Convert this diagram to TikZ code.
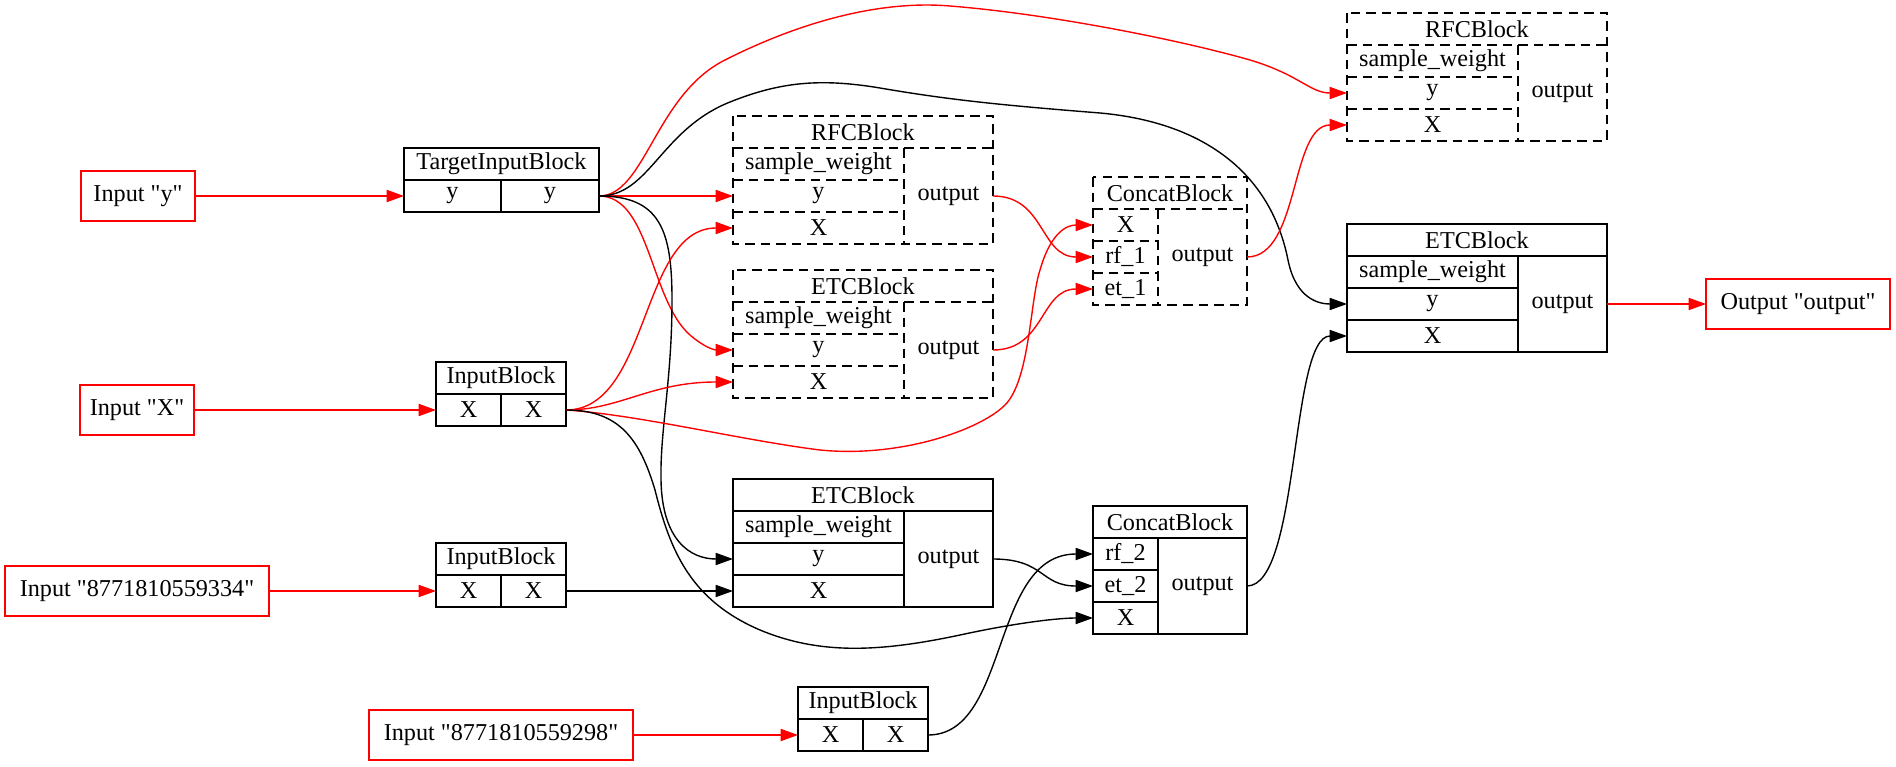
\documentclass[tikz,border=0pt]{standalone}
\usepackage{fontspec}
\setmainfont{Liberation Serif}
\usetikzlibrary{arrows.meta}

\newcommand{\px}{0.578pt}
\newcommand{\dq}{\XeTeXglyph\XeTeXcharglyph"22\relax}

\tikzset{
  cell/.style args={#1/#2}{draw, line width=0.8pt, inner sep=0pt, outer sep=0pt,
    anchor=north west, minimum width=#1*\px, minimum height=#2*\px},
  dashcell/.style={draw=none},
  dashline/.style={line width=0.8pt, dash pattern=on 5.5pt off 3.5pt},
  iobox/.style={draw=red},
  link/.style={line width=0.8pt, -{Triangle[length=10pt,width=7pt]}},
  redlink/.style={link, red},
}

\begin{document}
\begin{tikzpicture}[x=\px, y=-\px, font=\fontsize{14}{17}\selectfont]
\useasboundingbox (0,0) rectangle (1896,767);

% inputs and output
\node[cell=114/50, iobox] (in_y) at (81,171) {Input \dq y\dq};
\node[cell=114/50, iobox] (in_X) at (80,385) {Input \dq X\dq};
\node[cell=264/50, iobox] (in_334) at (5,566) {Input \dq 8771810559334\dq};
\node[cell=264/50, iobox] (in_298) at (369,710) {Input \dq 8771810559298\dq};
\node[cell=184/50, iobox] (out_output) at (1706,279) {Output \dq output\dq};

% input blocks
\node[cell=195/32] (tib) at (404,148) {TargetInputBlock};
\node[cell=97/32] (tib_in) at (404,180) {y};
\node[cell=98/32] (tib_out) at (501,180) {y};

\node[cell=130/32] (ib1) at (436,362) {InputBlock};
\node[cell=65/32] (ib1_in) at (436,394) {X};
\node[cell=65/32] (ib1_out) at (501,394) {X};

\node[cell=130/32] (ib2) at (436,543) {InputBlock};
\node[cell=65/32] (ib2_in) at (436,575) {X};
\node[cell=65/32] (ib2_out) at (501,575) {X};

\node[cell=130/32] (ib3) at (798,687) {InputBlock};
\node[cell=65/32] (ib3_in) at (798,719) {X};
\node[cell=65/32] (ib3_out) at (863,719) {X};

% first layer (dashed)
\node[cell=260/32, dashcell] (rfc1) at (733,116) {RFCBlock};
\node[cell=171/32, dashcell] (rfc1_sw) at (733,148) {sample\_weight};
\node[cell=171/32, dashcell] (rfc1_y) at (733,180) {y};
\node[cell=171/32, dashcell] (rfc1_X) at (733,212) {X};
\node[cell=89/96, dashcell] (rfc1_out) at (904,148) {output};

\node[cell=260/32, dashcell] (etc1) at (733,270) {ETCBlock};
\node[cell=171/32, dashcell] (etc1_sw) at (733,302) {sample\_weight};
\node[cell=171/32, dashcell] (etc1_y) at (733,334) {y};
\node[cell=171/32, dashcell] (etc1_X) at (733,366) {X};
\node[cell=89/96, dashcell] (etc1_out) at (904,302) {output};

\node[cell=154/32, dashcell] (cat1) at (1093,177) {ConcatBlock};
\node[cell=65/32, dashcell] (cat1_X) at (1093,209) {X};
\node[cell=65/32, dashcell] (cat1_rf1) at (1093,241) {rf\_1};
\node[cell=65/32, dashcell] (cat1_et1) at (1093,273) {et\_1};
\node[cell=89/96, dashcell] (cat1_out) at (1158,209) {output};

\node[cell=260/32, dashcell] (rfc2) at (1347,13) {RFCBlock};
\node[cell=171/32, dashcell] (rfc2_sw) at (1347,45) {sample\_weight};
\node[cell=171/32, dashcell] (rfc2_y) at (1347,77) {y};
\node[cell=171/32, dashcell] (rfc2_X) at (1347,109) {X};
\node[cell=89/96, dashcell] (rfc2_out) at (1518,45) {output};

\foreach \b/\f/\g in {rfc1/sw/y, etc1/sw/y, rfc2/sw/y, cat1/X/rf1} {
  \draw[dashline] (\b.north west) rectangle (\b_out.south east);
  \draw[dashline] (\b.south west) -- (\b.south east);
  \draw[dashline] (\b_\f.south west) -- (\b_\f.south east);
  \draw[dashline] (\b_\g.south west) -- (\b_\g.south east);
  \draw[dashline] (\b_out.north west) -- (\b_out.south west);
}

% second layer
\node[cell=260/32] (etc2) at (733,479) {ETCBlock};
\node[cell=171/32] (etc2_sw) at (733,511) {sample\_weight};
\node[cell=171/32] (etc2_y) at (733,543) {y};
\node[cell=171/32] (etc2_X) at (733,575) {X};
\node[cell=89/96] (etc2_out) at (904,511) {output};

\node[cell=154/32] (cat2) at (1093,506) {ConcatBlock};
\node[cell=65/32] (cat2_rf2) at (1093,538) {rf\_2};
\node[cell=65/32] (cat2_et2) at (1093,570) {et\_2};
\node[cell=65/32] (cat2_X) at (1093,602) {X};
\node[cell=89/96] (cat2_out) at (1158,538) {output};

\node[cell=260/32] (etc3) at (1347,224) {ETCBlock};
\node[cell=171/32] (etc3_sw) at (1347,256) {sample\_weight};
\node[cell=171/32] (etc3_y) at (1347,288) {y};
\node[cell=171/32] (etc3_X) at (1347,320) {X};
\node[cell=89/96] (etc3_out) at (1518,256) {output};

% edges
\draw[redlink] (in_y.east) -- (tib_in.west);
\draw[redlink] (in_X.east) -- (ib1_in.west);
\draw[redlink] (in_334.east) -- (ib2_in.west);
\draw[redlink] (in_298.east) -- (ib3_in.west);
\draw[redlink] (etc3_out.east) -- (out_output.west);

\draw[redlink] (tib_out.east) -- (rfc1_y.west);
\draw[redlink] (tib_out.east) .. controls (650,196) and (650,300) .. (690,335)
  .. controls (705,348) and (715,350) .. (etc1_y.west);
\draw[redlink] (tib_out.east) .. controls (645,196) and (655,95) .. (725,60)
  .. controls (800,22) and (880,0) .. (950,6)
  .. controls (1050,14) and (1180,40) .. (1250,60)
  .. controls (1300,75) and (1310,93) .. (rfc2_y.west);
\draw[link] (tib_out.east) .. controls (650,196) and (660,130) .. (730,102)
  .. controls (780,82) and (820,78) .. (880,88)
  .. controls (950,100) and (1000,105) .. (1100,113)
  .. controls (1200,122) and (1270,170) .. (1288,260)
  .. controls (1296,300) and (1320,304) .. (etc3_y.west);
\draw[link] (tib_out.east) .. controls (660,196) and (672,230) .. (672,300)
  .. controls (672,380) and (660,430) .. (661,480)
  .. controls (662,540) and (690,559) .. (etc2_y.west);

\draw[redlink] (ib1_out.east) .. controls (650,410) and (640,228) .. (rfc1_X.west);
\draw[redlink] (ib1_out.east) .. controls (620,410) and (650,382) .. (etc1_X.west);
\draw[redlink] (ib1_out.east) .. controls (640,415) and (740,440) .. (820,450)
  .. controls (900,458) and (980,430) .. (1005,405)
  .. controls (1030,380) and (1030,300) .. (1040,270)
  .. controls (1050,235) and (1065,225) .. (cat1_X.west);
\draw[link] (ib1_out.east) .. controls (620,410) and (640,440) .. (655,490)
  .. controls (670,550) and (690,600) .. (760,630)
  .. controls (820,655) and (880,652) .. (960,635)
  .. controls (1020,622) and (1060,618) .. (cat2_X.west);

\draw[link] (ib2_out.east) -- (etc2_X.west);
\draw[link] (ib3_out.east) .. controls (1010,735) and (990,554) .. (cat2_rf2.west);
\draw[link] (etc2_out.east) .. controls (1045,559) and (1040,586) .. (cat2_et2.west);
\draw[link] (cat2_out.east) .. controls (1300,586) and (1290,336) .. (etc3_X.west);

\draw[redlink] (rfc1_out.east) .. controls (1045,196) and (1040,257) .. (cat1_rf1.west);
\draw[redlink] (etc1_out.east) .. controls (1045,350) and (1040,289) .. (cat1_et1.west);
\draw[redlink] (cat1_out.east) .. controls (1300,257) and (1290,125) .. (rfc2_X.west);
\end{tikzpicture}
\end{document}
